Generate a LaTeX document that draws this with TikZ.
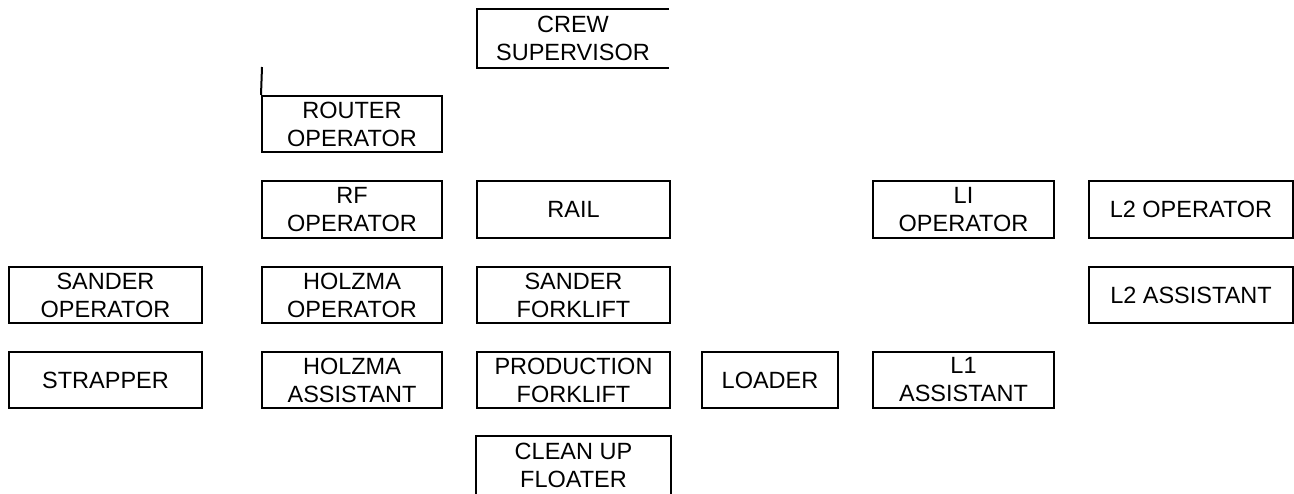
\documentclass[tikz,border=0pt]{standalone}
\usepackage{fontspec}
\setmainfont{Liberation Sans}
\begin{document}
\begin{tikzpicture}[x=1pt,y=-1pt,
  box/.style={draw, line width=2pt, inner sep=0pt, align=center,
    font=\fontsize{23.5}{28}\selectfont},
  openbox/.style={box, draw=none},
  edge/.style={line width=2pt}]
\useasboundingbox (0,0) rectangle (1294,493);
% nodes
\node[openbox, minimum width=190pt, minimum height=57pt] (crew) at (573,38.5) {CREW\\SUPERVISOR};
\node[box, minimum width=180pt, minimum height=56pt] (router) at (352,124) {ROUTER\\OPERATOR};
\node[box, minimum width=180pt, minimum height=57pt] (rf) at (352,209.5) {RF\\OPERATOR};
\node[box, minimum width=193pt, minimum height=57pt] (rail) at (573.5,209.5) {RAIL};
\node[box, minimum width=181pt, minimum height=57pt] (li) at (963.5,209.5) {LI\\OPERATOR};
\node[box, minimum width=204pt, minimum height=57pt] (l2op) at (1191,209.5) {L2 OPERATOR};
\node[box, minimum width=193pt, minimum height=56pt] (sandop) at (105.5,295) {SANDER\\OPERATOR};
\node[box, minimum width=180pt, minimum height=56pt] (holzop) at (352,295) {HOLZMA\\OPERATOR};
\node[box, minimum width=193pt, minimum height=56pt] (sandfork) at (573.5,295) {SANDER\\FORKLIFT};
\node[box, minimum width=204pt, minimum height=56pt] (l2as) at (1191,295) {L2 ASSISTANT};
\node[box, minimum width=193pt, minimum height=56pt] (strap) at (105.5,380) {STRAPPER};
\node[box, minimum width=180pt, minimum height=56pt] (holzas) at (352,380) {HOLZMA\\ASSISTANT};
\node[box, minimum width=193pt, minimum height=56pt] (prod) at (573.5,380) {PRODUCTION\\FORKLIFT};
\node[box, minimum width=136pt, minimum height=56pt] (loader) at (770,380) {LOADER};
\node[box, minimum width=181pt, minimum height=56pt] (l1as) at (963.5,380) {L1\\ASSISTANT};
\node[openbox, minimum width=193pt, minimum height=57pt] (clean) at (573.5,465.5) {CLEAN UP\\FLOATER};
% open-sided boxes
\draw[edge] (crew.north east) -- (crew.north west) -- (crew.south west) -- (crew.south east);
\draw[edge] (clean.south west) -- (clean.north west) -- (clean.north east) -- (clean.south east);
% stub line above router
\coordinate (rtop) at (262,67);
\draw[edge] (router.north west) -- (rtop);
\end{tikzpicture}
\end{document}
